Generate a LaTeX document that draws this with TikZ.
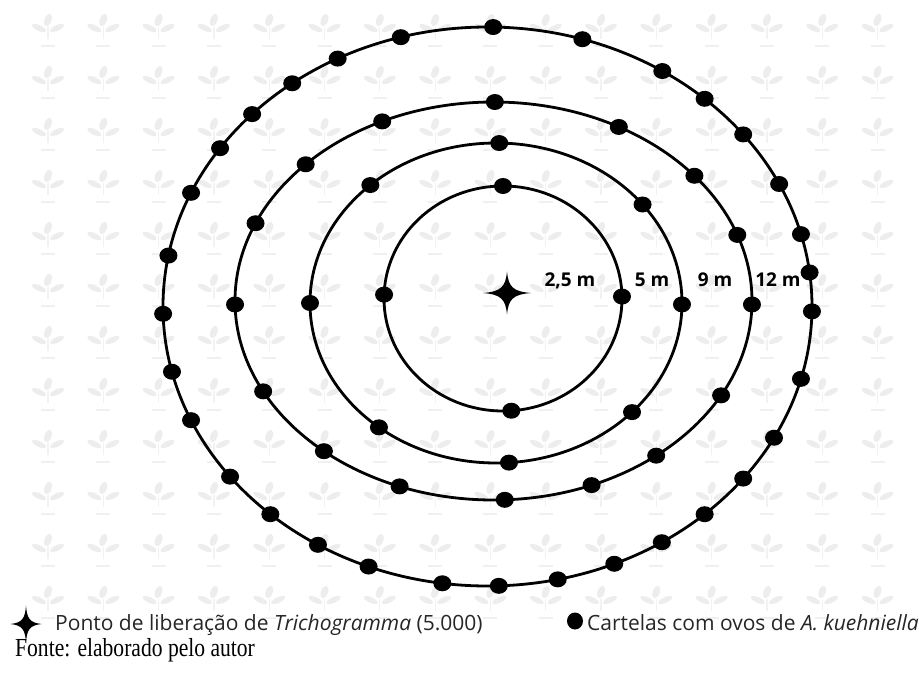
\documentclass[tikz,border=0pt]{standalone}
\usepackage{fontspec}
\newfontfamily\legendfont{Open Sans}
\newfontfamily\footfont{Liberation Serif}
\usetikzlibrary{calc,shapes.geometric}
\tikzset{
    ring/.style={line width=2.8pt, black},
    card/.style={ellipse, fill=black, inner sep=0pt, minimum width=18pt, minimum height=16pt},
    distlabel/.style={anchor=base, inner sep=0pt, font=\legendfont\bfseries\fontsize{19}{22}\selectfont},
    legendtext/.style={anchor=base west, inner sep=0pt, text=black!85, font=\legendfont\fontsize{21}{24}\selectfont},
    pics/plant/.style={code={
        \fill[black!7, rotate around={-20:(0,-5)}] (0,-5) ellipse [x radius=3.5, y radius=6.5];
        \fill[black!7, rotate around={-25:(-9,3)}] (-9,3) ellipse [x radius=7.5, y radius=2.8];
        \fill[black!7, rotate around={25:(9,3)}] (9,3) ellipse [x radius=7.5, y radius=2.8];
        \draw[black!5, line width=1.2pt] (0,2) -- (0,14);
        \draw[black!6, line width=1.5pt] (-7,21) -- (7,21);
    }},
    pics/fourstar/.style={code={
        \fill (24,0) .. controls (6,-1.5) and (1.5,-6) .. (0,-21.5)
            .. controls (-1.5,-6) and (-6,-1.5) .. (-24,0)
            .. controls (-6,1.5) and (-1.5,6) .. (0,21.5)
            .. controls (1.5,6) and (6,1.5) .. (24,0) -- cycle;
    }}
}

\begin{document}
\begin{tikzpicture}[x=1pt, y=-1pt]
    \fill[white] (0,0) rectangle (919,675);
    \useasboundingbox (0,0) rectangle (919,675);
    % faint plant pattern
    \foreach \i in {0,...,15}
        \foreach \j in {0,...,11}
            \pic at (48+55.3*\i, 25+52*\j) {plant};
    % ring centres
    \coordinate (ctr1) at (503,298.5);
    \coordinate (ctr2) at (496,303);
    \coordinate (ctr3) at (493.5,301);
    \coordinate (ctr4) at (487.5,306.5);
    \draw[ring] (ctr1) ellipse [x radius=119, y radius=112.5];
    \draw[ring] (ctr2) ellipse [x radius=186, y radius=160];
    \draw[ring] (ctr3) ellipse [x radius=258.5, y radius=199];
    \draw[ring] (ctr4) ellipse [x radius=324.5, y radius=279.5];
    % egg cards
    \foreach \t [count=\k] in {270,359,86,182}
        \node[card] (ra\k) at ($(ctr1)+({119*cos(\t)},{112.5*sin(\t)})$) {};
    \foreach \t [count=\k] in {271,322,0.5,43,86,129,180,227.5}
        \node[card] (rb\k) at ($(ctr2)+({186*cos(\t)},{160*sin(\t)})$) {};
    \foreach \t [count=\k] in {270.3,299,321,340.6,1,28.3,51,67.7,87.5,111.3,131,153,179,203,223.4,244.5}
        \node[card] (rc\k) at ($(ctr3)+({258.5*cos(\t)},{199*sin(\t)})$) {};
    \foreach \t [count=\k] in {271,287,302.6,312,322,334,345,353,1,15,28,38,48,57.5,67,77.5,
                               88,98,111.5,121.5,132,142.5,156,166.5,178.5,190.5,204,214.5,223.5,233,242.5,254.5}
        \node[card] (rd\k) at ($(ctr4)+({324.5*cos(\t)},{279.5*sin(\t)})$) {};
    % release point
    \pic at (507,293) {fourstar};
    \node[distlabel] (l1) at (570,286) {2,5 m};
    \node[distlabel] (l2) at (652,286) {5 m};
    \node[distlabel] (l3) at (715,286) {9 m};
    \node[distlabel] (l4) at (778,286) {12 m};
    % legend
    \pic[xscale=0.65, yscale=0.86] at (26,624) {fourstar};
    \node[legendtext] (leg1) at (55,630) {Ponto de liberação de \textit{Trichogramma} (5.000)};
    \node[card, minimum width=16pt, minimum height=17pt] (legdot) at (575,621) {};
    \node[legendtext] (leg2) at (587,630) {Cartelas com ovos de \textit{A. kuehniella}};
    \node[anchor=base west, inner sep=0pt, font=\footfont\fontsize{26}{28}\selectfont] (src) at (15,656)
        {\scalebox{0.83}[1]{Fonte: elaborado pelo autor}};
\end{tikzpicture}
\end{document}
